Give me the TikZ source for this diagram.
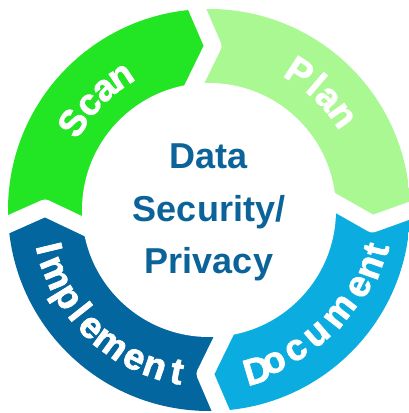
\documentclass[tikz,border=0pt]{standalone}
\usepackage{fontspec}
\setmainfont{Liberation Sans}
\newfontfamily\ringfont{Liberation Sans Bold}[FakeBold=2]
\usetikzlibrary{calc}
\definecolor{scanc}{HTML}{22E523}
\definecolor{planc}{HTML}{A9F891}
\definecolor{docc}{HTML}{0BADE0}
\definecolor{implc}{HTML}{03669F}
\definecolor{ctext}{HTML}{0B6399}
\newcommand{\mkchev}[2]{%
  \coordinate (#1m) at (#2:164pt);
  \coordinate (#1i) at ($(#2:71.5pt)+(#2+90:42.5pt)$);
  \coordinate (#1o) at ($(#2:256.5pt)+(#2+90:42.5pt)$);}
\newcommand{\outl}[4]{\node[ringtxt, rotate=#2-90] (#1) at (#2:#3pt) {#4};}
\newcommand{\inl}[4]{\node[ringtxt, rotate=#2+90] (#1) at (#2:#3pt) {#4};}
\begin{document}
\begin{tikzpicture}[
  ringtxt/.style={text=white, font=\ringfont\fontsize{37}{44}\selectfont, anchor=base, inner sep=0pt},
  midtxt/.style={text=ctext, font=\bfseries\fontsize{36}{44}\selectfont, anchor=base, inner sep=0pt},
  gapline/.style={draw=white, line width=17pt, line join=round}]
\useasboundingbox[fill=white] (-209pt,-203pt) rectangle (200pt,210pt);
\mkchev{L}{179.3}
\mkchev{T}{88.6}
\mkchev{R}{-4.9}
\mkchev{B}{-91.4}
\begin{scope}
\clip (0,0) circle[radius=201pt];
\fill[scanc] (0,0) -- (Li) -- (Lm) -- (Lo) -- (134:420pt) -- (To) -- (Tm) -- (Ti) -- cycle;
\fill[planc] (0,0) -- (Ti) -- (Tm) -- (To) -- (42:420pt) -- (Ro) -- (Rm) -- (Ri) -- cycle;
\fill[docc] (0,0) -- (Ri) -- (Rm) -- (Ro) -- (-48:420pt) -- (Bo) -- (Bm) -- (Bi) -- cycle;
\fill[implc] (0,0) -- (Bi) -- (Bm) -- (Bo) -- (-136:420pt) -- (Lo) -- (Lm) -- (Li) -- cycle;
\end{scope}
\fill[white] (0,0) circle[radius=127pt];
\foreach \c in {L,T,R,B} \draw[gapline] (\c i) -- (\c m) -- (\c o);
% centre text
\node[midtxt] (t1) at (0pt,42pt) {Data};
\node[midtxt] (t2) at (0pt,-11pt) {Security/};
\node[midtxt] (t3) at (0pt,-63pt) {Privacy};
% Scan
\outl{s1}{147.3}{149}{S}
\outl{s2}{138.6}{149}{c}
\outl{s3}{130.9}{149}{a}
\outl{s4}{123.4}{149}{n}
% Plan
\outl{p1}{56.8}{152.5}{P}
\outl{p2}{49.4}{152.5}{l}
\outl{p3}{43.2}{152.5}{a}
\outl{p4}{35.4}{152.5}{n}
% Document
\inl{d1}{-73.3}{180}{D}
\inl{d2}{-66.8}{176}{o}
\inl{d3}{-58.1}{175}{c}
\inl{d4}{-49.0}{175}{u}
\inl{d5}{-37.8}{176}{m}
\inl{d6}{-27.0}{179}{e}
\inl{d7}{-19.6}{182}{n}
\inl{d8}{-13.4}{184}{t}
% Implement
\inl{i1}{-166.5}{177}{I}
\inl{i2}{-157.7}{177}{m}
\inl{i3}{-148.4}{177}{p}
\inl{i4}{-141.7}{177}{l}
\inl{i5}{-135.2}{177}{e}
\inl{i6}{-126.3}{177}{m}
\inl{i7}{-116.7}{177}{e}
\inl{i8}{-109.1}{177}{n}
\inl{i9}{-101.2}{177}{t}
\end{tikzpicture}
\end{document}
